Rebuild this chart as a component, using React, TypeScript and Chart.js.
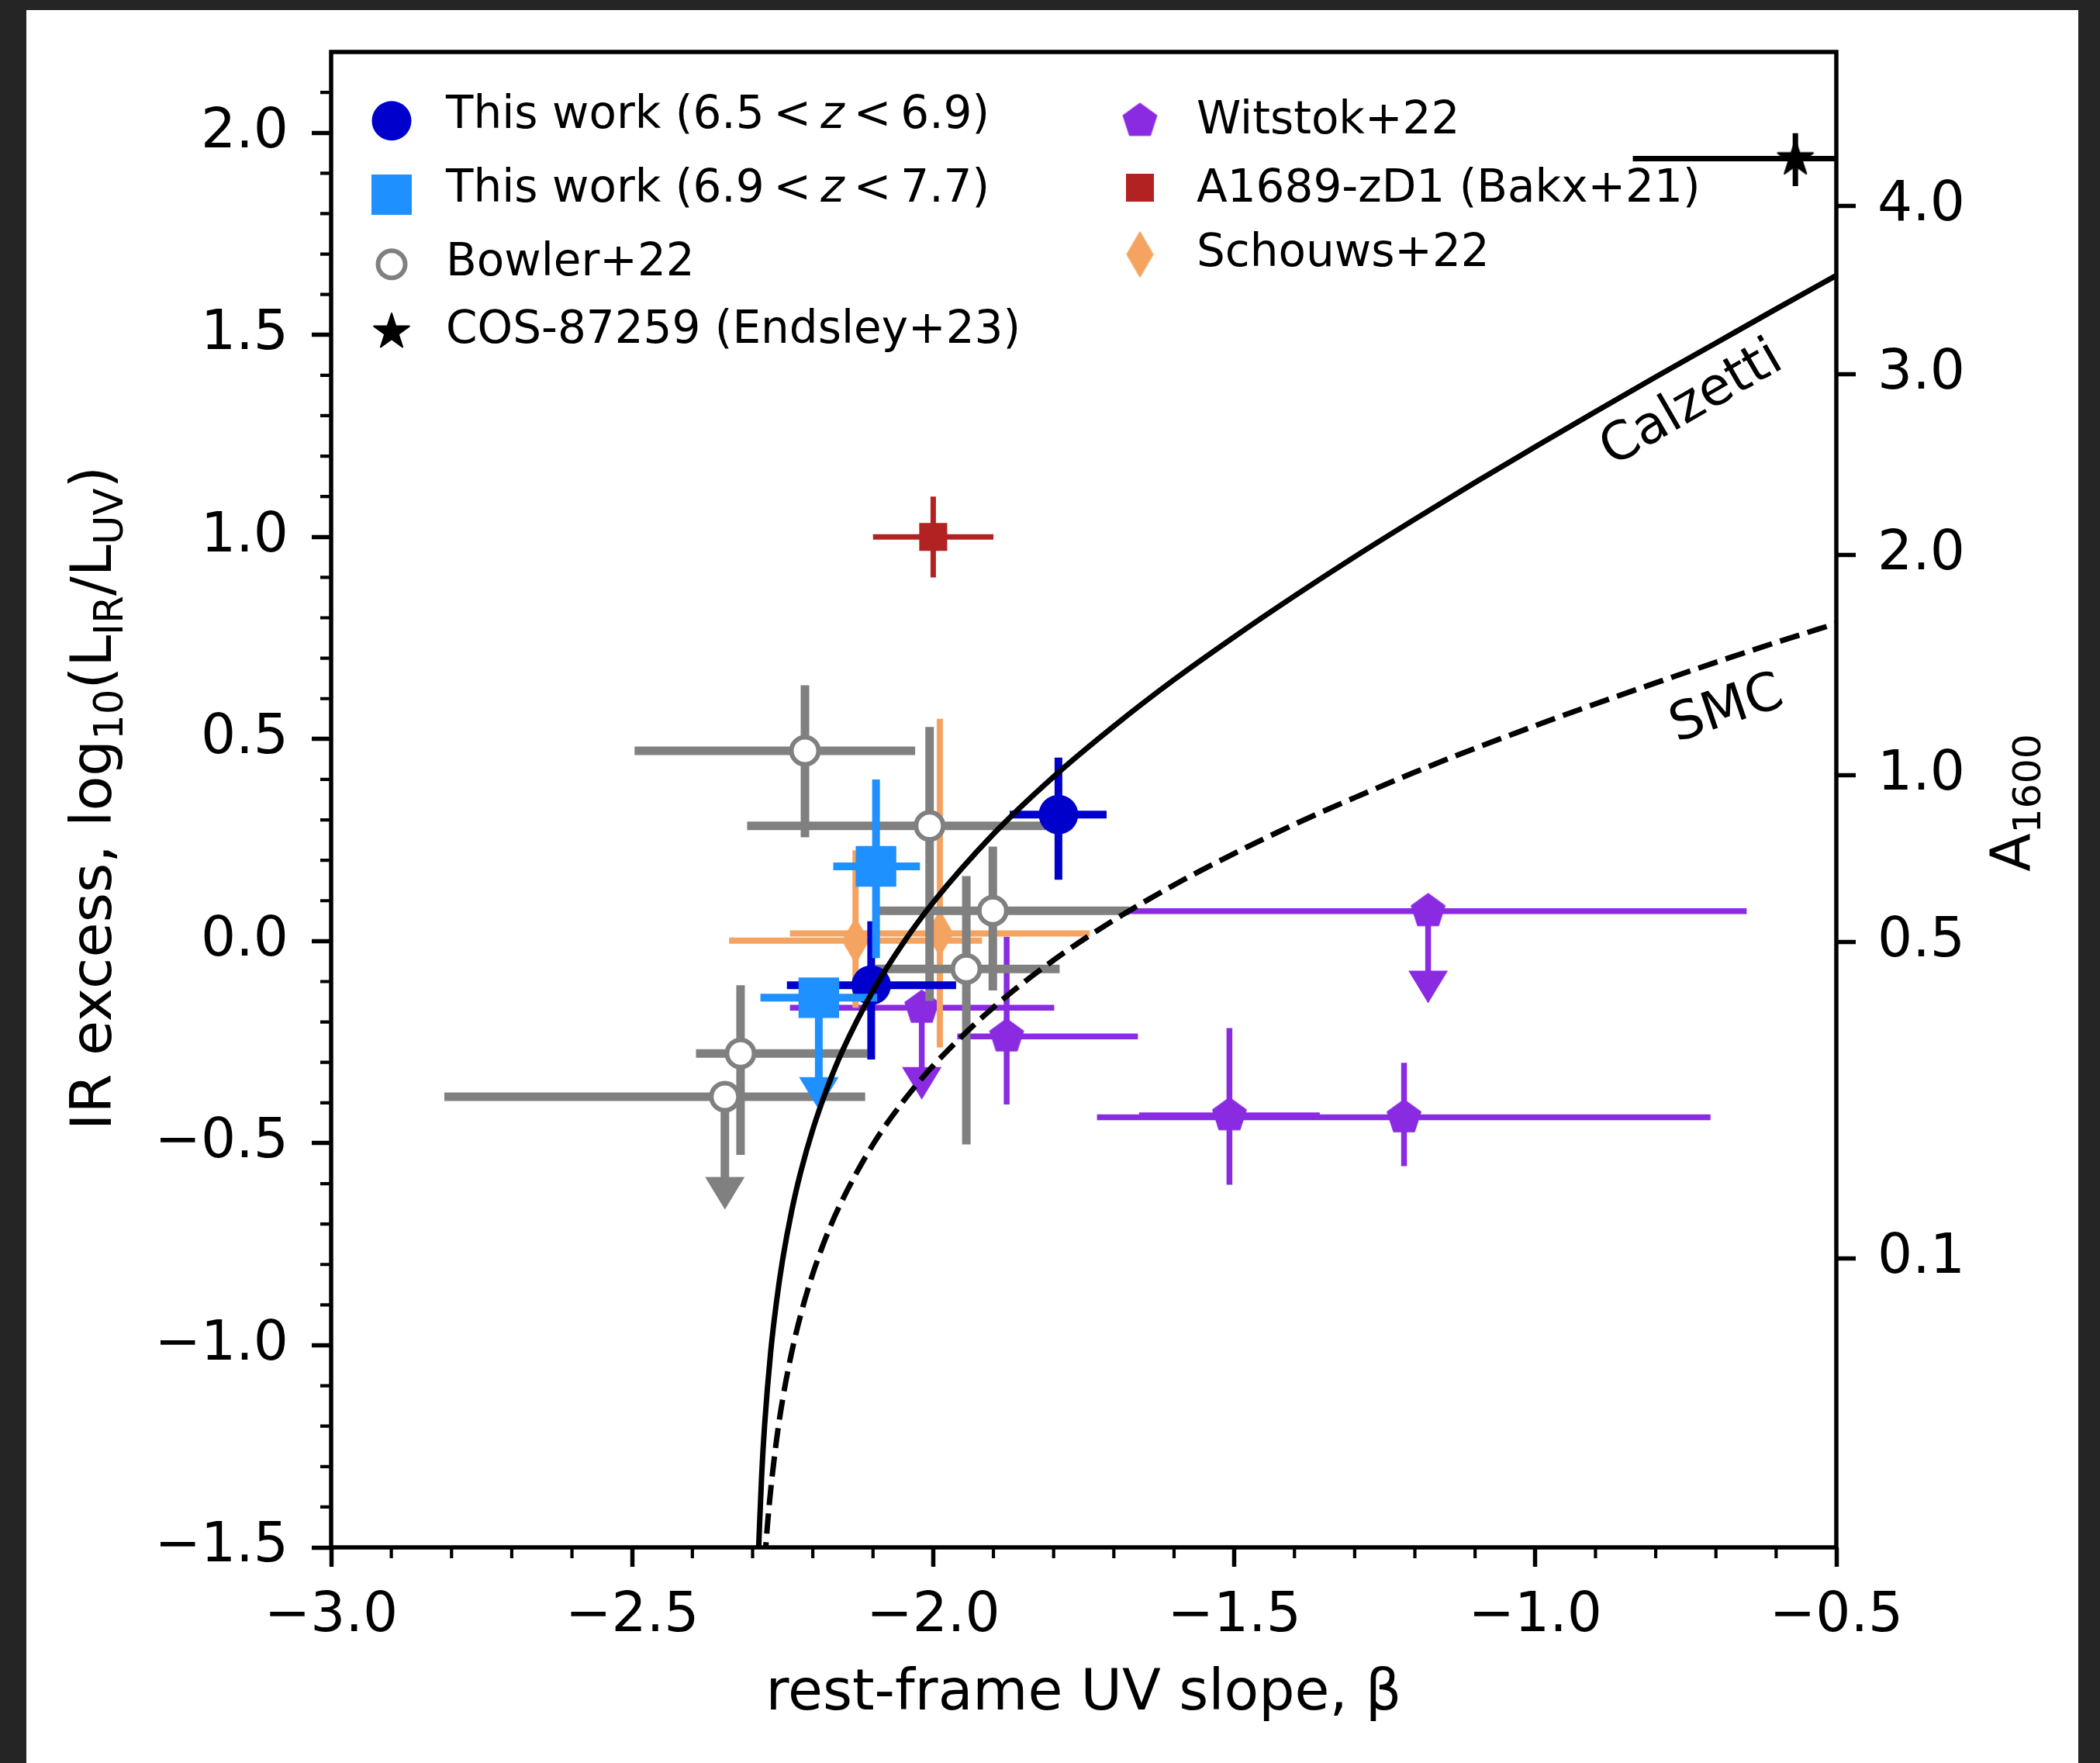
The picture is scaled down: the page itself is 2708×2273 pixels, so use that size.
import React, { useEffect, useRef } from "react";
import { Chart, registerables } from "chart.js";
Chart.register(...registerables);

const W = 2708;
const H = 2273;
const FONT = "'DejaVu Sans', 'Liberation Sans', sans-serif";

// ---------- axes ----------
const X_MIN = -3.0, X_MAX = -0.5, X_STEP = 0.5;
const Y_MIN = -1.5, Y_MAX = 2.2, Y_STEP = 0.5;
const A1600_LABELS = ["4.0", "3.0", "2.0", "1.0", "0.5", "0.1"];
const A1600_IRX = [1.819, 1.402, 0.956, 0.41, -0.003, -0.785];

// ---------- This work (6.5 < z < 6.9) ----------
const lowBeta = [-1.792, -2.103];
const lowIrx = [0.313, -0.109];
const lowBetaLo = [-1.873, -2.243];
const lowBetaHi = [-1.712, -1.962];
const lowIrxLo = [0.152, -0.293];
const lowIrxHi = [0.454, 0.049];

// ---------- This work (6.9 < z < 7.7) ----------
const highBeta = [-2.095, -2.19];
const highIrx = [0.185, -0.14];
const highBetaLo = [-2.166, -2.287];
const highBetaHi = [-2.022, -2.093];
const highIrxLo = [-0.042, null];
const highIrxHi = [0.4, null];
const highUpperTip = [null, -0.417];

// ---------- Bowler+22 ----------
const bowBeta = [-2.213, -2.006, -1.901, -1.945, -2.32, -2.346];
const bowIrx = [0.471, 0.285, 0.075, -0.069, -0.278, -0.385];
const bowBetaLo = [-2.496, -2.309, -2.091, -2.1, -2.394, -2.812];
const bowBetaHi = [-2.03, -1.804, -1.674, -1.79, -2.109, -2.113];
const bowIrxLo = [0.257, -0.148, -0.122, -0.503, -0.529, null];
const bowIrxHi = [0.633, 0.53, 0.234, 0.161, -0.109, null];
const bowUpperTip = [null, null, null, null, null, -0.664];

// ---------- Schouws+22 ----------
const schBeta = [-2.129, -1.989];
const schIrx = [0.001, 0.019];
const schBetaLo = [-2.339, -2.238];
const schBetaHi = [-1.919, -1.74];
const schIrxLo = [-0.165, -0.263];
const schIrxHi = [0.225, 0.55];

// ---------- Witstok+22 ----------
const witBeta = [-2.019, -1.878, -1.178, -1.508, -1.218];
const witIrx = [-0.165, -0.236, 0.074, -0.431, -0.436];
const witBetaLo = [-2.238, -1.96, -1.674, -1.658, -1.728];
const witBetaHi = [-1.799, -1.66, -0.649, -1.358, -0.709];
const witIrxLo = [null, -0.404, null, -0.603, -0.557];
const witIrxHi = [null, 0.011, null, -0.215, -0.301];
const witUpperTip = [-0.392, null, -0.154, null, null];

// ---------- A1689-zD1 (Bakx+21) ----------
const bakBeta = [-2.0];
const bakIrx = [1.0];
const bakBetaLo = [-2.1];
const bakBetaHi = [-1.9];
const bakIrxLo = [0.9];
const bakIrxHi = [1.1];

// ---------- COS-87259 (Endsley+23) ----------
const cosBeta = [-0.568];
const cosIrx = [1.936];
const cosBetaLo = [-0.838];
const cosBetaHi = [-0.298];
const cosIrxLo = [1.868];
const cosIrxHi = [1.999];

// ---------- IRX-beta relations ----------
const calzBeta = [-2.29, -2.285, -2.28, -2.27, -2.26, -2.25, -2.235, -2.22, -2.2, -2.175, -2.15, -2.1, -2.05, -2.0, -1.9, -1.8, -1.7, -1.6, -1.5, -1.4, -1.3, -1.2, -1.1, -1.0, -0.9, -0.8, -0.7, -0.6, -0.5];
const calzIrx = [-1.502, -1.324, -1.197, -1.017, -0.889, -0.787, -0.667, -0.571, -0.466, -0.359, -0.269, -0.123, -0.005, 0.096, 0.265, 0.407, 0.532, 0.647, 0.753, 0.854, 0.951, 1.044, 1.135, 1.223, 1.31, 1.396, 1.48, 1.564, 1.647];
const smcBeta = [-2.28, -2.275, -2.27, -2.26, -2.25, -2.235, -2.22, -2.2, -2.175, -2.15, -2.1, -2.05, -2.0, -1.9, -1.8, -1.7, -1.6, -1.5, -1.4, -1.3, -1.2, -1.1, -1.0, -0.9, -0.8, -0.7, -0.6, -0.5];
const smcIrx = [-1.537, -1.439, -1.359, -1.232, -1.133, -1.017, -0.924, -0.823, -0.721, -0.638, -0.503, -0.397, -0.308, -0.164, -0.047, 0.052, 0.139, 0.217, 0.289, 0.355, 0.418, 0.477, 0.533, 0.587, 0.639, 0.69, 0.739, 0.786];

// colours
const C_DARK = "#0000CD";
const C_LIGHT = "#1E90FF";
const C_GREY = "#808080";
const C_ORANGE = "#F4A460";
const C_PURPLE = "#8A2BE2";
const C_RED = "#B22222";
const C_BLACK = "#000000";

function mkCanvas(w: number, h: number) {
  const c = document.createElement("canvas");
  c.width = w;
  c.height = h;
  return c;
}
function pentagonCanvas(R: number, color: string) {
  const s = Math.ceil(2 * R + 6);
  const c = mkCanvas(s, s);
  const g = c.getContext("2d")!;
  g.fillStyle = color;
  g.strokeStyle = color;
  g.lineWidth = 2;
  g.lineJoin = "round";
  g.beginPath();
  for (let k = 0; k < 5; k++) {
    const a = -Math.PI / 2 + (k * 2 * Math.PI) / 5;
    const px = s / 2 + R * Math.cos(a);
    const py = s / 2 + R * Math.sin(a);
    if (k === 0) g.moveTo(px, py);
    else g.lineTo(px, py);
  }
  g.closePath();
  g.fill();
  g.stroke();
  return c;
}
function starCanvas(R: number, color: string) {
  const s = Math.ceil(2 * R + 6);
  const c = mkCanvas(s, s);
  const g = c.getContext("2d")!;
  const r = R * 0.381966;
  g.fillStyle = color;
  g.strokeStyle = color;
  g.lineWidth = 2;
  g.lineJoin = "round";
  g.beginPath();
  for (let k = 0; k < 10; k++) {
    const a = -Math.PI / 2 + (k * Math.PI) / 5;
    const rr = k % 2 === 0 ? R : r;
    const px = s / 2 + rr * Math.cos(a);
    const py = s / 2 + rr * Math.sin(a);
    if (k === 0) g.moveTo(px, py);
    else g.lineTo(px, py);
  }
  g.closePath();
  g.fill();
  g.stroke();
  return c;
}
function diamondCanvas(w: number, h: number, color: string) {
  const cw = Math.ceil(w + 6);
  const ch = Math.ceil(h + 6);
  const c = mkCanvas(cw, ch);
  const g = c.getContext("2d")!;
  g.fillStyle = color;
  g.strokeStyle = color;
  g.lineWidth = 2;
  g.lineJoin = "round";
  g.beginPath();
  g.moveTo(cw / 2, ch / 2 - h / 2);
  g.lineTo(cw / 2 + w / 2, ch / 2);
  g.lineTo(cw / 2, ch / 2 + h / 2);
  g.lineTo(cw / 2 - w / 2, ch / 2);
  g.closePath();
  g.fill();
  g.stroke();
  return c;
}

function pts(b: number[], v: number[]) {
  return b.map((x, i) => ({ x, y: v[i] }));
}
const fmt = (v: number) => (v < 0 ? "\u2212" : "") + Math.abs(v).toFixed(1);

type Part = { t?: string; sub?: boolean; it?: boolean; gap?: number };
function drawRich(ctx: CanvasRenderingContext2D, parts: Part[], x: number, y: number, size: number, align: "left" | "center") {
  const subSize = size * 0.7;
  const shift = size * 0.2;
  const widths = parts.map((p) => {
    if (p.gap) return p.gap;
    ctx.font = `${p.it ? "italic " : ""}${p.sub ? subSize : size}px ${FONT}`;
    return ctx.measureText(p.t || "").width;
  });
  const total = widths.reduce((a, b) => a + b, 0);
  let cx = align === "center" ? x - total / 2 : x;
  ctx.textAlign = "left";
  ctx.textBaseline = "alphabetic";
  parts.forEach((p, i) => {
    if (!p.gap) {
      ctx.font = `${p.it ? "italic " : ""}${p.sub ? subSize : size}px ${FONT}`;
      ctx.fillText(p.t || "", cx, y + (p.sub ? shift : 0));
    }
    cx += widths[i];
  });
}

const bgPlugin = {
  id: "bg",
  beforeDraw(chart: any) {
    const ctx = chart.ctx;
    ctx.save();
    ctx.fillStyle = "#252525";
    ctx.fillRect(0, 0, W, H);
    ctx.fillStyle = "#ffffff";
    ctx.fillRect(34, 13, 2680 - 34, H - 13);
    ctx.restore();
  },
};

const errPlugin = {
  id: "errbars",
  beforeDatasetDraw(chart: any, args: any) {
    const ds = chart.data.datasets[args.index];
    const eb = ds.errBars;
    if (!eb) return;
    const ctx = chart.ctx;
    const a = chart.chartArea;
    const xs = chart.scales.x;
    const ys = chart.scales.y;
    ctx.save();
    ctx.beginPath();
    ctx.rect(a.left, a.top, a.right - a.left, a.bottom - a.top);
    ctx.clip();
    ctx.strokeStyle = eb.color;
    ctx.fillStyle = eb.color;
    ctx.lineWidth = eb.width;
    ctx.lineCap = "butt";
    for (let i = 0; i < eb.beta.length; i++) {
      const px = xs.getPixelForValue(eb.beta[i]);
      const py = ys.getPixelForValue(eb.irx[i]);
      ctx.beginPath();
      if (eb.betaLo && eb.betaLo[i] != null) {
        ctx.moveTo(xs.getPixelForValue(eb.betaLo[i]), py);
        ctx.lineTo(xs.getPixelForValue(eb.betaHi[i]), py);
      }
      if (eb.irxLo && eb.irxLo[i] != null) {
        ctx.moveTo(px, ys.getPixelForValue(eb.irxHi[i]));
        ctx.lineTo(px, ys.getPixelForValue(eb.irxLo[i]));
      }
      ctx.stroke();
      if (eb.tip && eb.tip[i] != null) {
        const ty = ys.getPixelForValue(eb.tip[i]);
        const hh = 42;
        const hw = 25.5;
        ctx.beginPath();
        ctx.moveTo(px, py);
        ctx.lineTo(px, ty - hh + 2);
        ctx.stroke();
        ctx.beginPath();
        ctx.moveTo(px - hw, ty - hh);
        ctx.lineTo(px + hw, ty - hh);
        ctx.lineTo(px, ty);
        ctx.closePath();
        ctx.fill();
      }
    }
    ctx.restore();
  },
};

function makeFramePlugin(markers: any) {
  return {
    id: "frame",
    afterDatasetsDraw(chart: any) {
      const ctx = chart.ctx;
      const a = chart.chartArea;
      const xs = chart.scales.x;
      const ys = chart.scales.y;
      ctx.save();
      // minor ticks
      ctx.strokeStyle = "#000";
      ctx.lineWidth = 4.2;
      ctx.beginPath();
      for (let k = -30; k <= -5; k++) {
        if (k % 5 === 0) continue;
        const px = xs.getPixelForValue(k / 10);
        ctx.moveTo(px, a.bottom);
        ctx.lineTo(px, a.bottom + 14);
      }
      for (let k = -15; k <= 21; k++) {
        if (k % 5 === 0) continue;
        const py = ys.getPixelForValue(k / 10);
        ctx.moveTo(a.left, py);
        ctx.lineTo(a.left - 14, py);
      }
      ctx.stroke();
      // frame
      ctx.lineWidth = 5.5;
      ctx.strokeRect(a.left, a.top, a.right - a.left, a.bottom - a.top);
      ctx.restore();
    },
    afterDraw(chart: any) {
      const ctx = chart.ctx;
      const a = chart.chartArea;
      ctx.save();
      ctx.fillStyle = "#000";
      // x label
      drawRich(ctx, [{ t: "rest-frame UV slope, \u03b2" }], (a.left + a.right) / 2, 2204, 73, "center");
      // y label
      ctx.save();
      ctx.translate(143, (a.top + a.bottom) / 2 - 2);
      ctx.rotate(-Math.PI / 2);
      drawRich(
        ctx,
        [
          { t: "IR excess, log" },
          { t: "10", sub: true },
          { t: "(L" },
          { t: "IR", sub: true },
          { t: "/L" },
          { t: "UV", sub: true },
          { t: ")" },
        ],
        0,
        0,
        73.5,
        "center"
      );
      ctx.restore();
      // right label
      ctx.save();
      ctx.translate(2617, (a.top + a.bottom) / 2 + 4);
      ctx.rotate(-Math.PI / 2);
      drawRich(ctx, [{ t: "A" }, { t: "1600", sub: true }], 0, 0, 72, "center");
      ctx.restore();
      // curve labels
      ctx.font = `68px ${FONT}`;
      ctx.textAlign = "center";
      ctx.textBaseline = "middle";
      ctx.save();
      ctx.translate(2182, 522);
      ctx.rotate((-30 * Math.PI) / 180);
      ctx.fillText("Calzetti", 0, 0);
      ctx.restore();
      ctx.save();
      ctx.translate(2227, 916);
      ctx.rotate((-18.7 * Math.PI) / 180);
      ctx.fillText("SMC", 0, 0);
      ctx.restore();

      // legend
      const LS = 58;
      const g = 12;
      // col 1
      ctx.fillStyle = C_DARK;
      ctx.beginPath();
      ctx.arc(505, 155.7, 25.5, 0, Math.PI * 2);
      ctx.fill();
      ctx.fillStyle = "#000";
      drawRich(ctx, [{ t: "This work (6.5" }, { gap: g }, { t: "<" }, { gap: g }, { t: "z", it: true }, { gap: g }, { t: "<" }, { gap: g }, { t: "6.9)" }], 575, 164.5, LS, "left");
      ctx.fillStyle = C_LIGHT;
      ctx.fillRect(505 - 26, 251 - 26, 52, 52);
      ctx.fillStyle = "#000";
      drawRich(ctx, [{ t: "This work (6.9" }, { gap: g }, { t: "<" }, { gap: g }, { t: "z", it: true }, { gap: g }, { t: "<" }, { gap: g }, { t: "7.7)" }], 575, 259.5, LS, "left");
      ctx.beginPath();
      ctx.arc(505, 340.7, 17.5, 0, Math.PI * 2);
      ctx.fillStyle = "#fff";
      ctx.fill();
      ctx.strokeStyle = C_GREY;
      ctx.lineWidth = 6;
      ctx.stroke();
      ctx.fillStyle = "#000";
      drawRich(ctx, [{ t: "Bowler+22" }], 575, 355, LS, "left");
      const st = markers.star;
      ctx.drawImage(st, 505 - st.width / 2, 428 - st.height / 2);
      drawRich(ctx, [{ t: "COS-87259 (Endsley+23)" }], 575, 442, LS, "left");
      // col 2
      const pe = markers.pent;
      ctx.drawImage(pe, 1470 - pe.width / 2, 156 - pe.height / 2);
      drawRich(ctx, [{ t: "Witstok+22" }], 1543, 171.7, LS, "left");
      ctx.fillStyle = C_RED;
      ctx.fillRect(1470 - 18, 242 - 18, 36, 36);
      ctx.fillStyle = "#000";
      drawRich(ctx, [{ t: "A1689-zD1 (Bakx+21)" }], 1543, 260, LS, "left");
      const di = markers.diamond;
      ctx.drawImage(di, 1470 - di.width / 2, 328 - di.height / 2);
      drawRich(ctx, [{ t: "Schouws+22" }], 1543, 343.3, LS, "left");
      ctx.restore();
    },
  };
}

export default function App() {
  const ref = useRef<HTMLCanvasElement>(null);
  useEffect(() => {
    document.body.style.margin = "0";
    document.body.style.background = "#252525";
    document.body.style.overflow = "hidden";
    const canvas = ref.current!;
    const pent = pentagonCanvas(22.5, C_PURPLE);
    const star = starCanvas(24, C_BLACK);
    const diamond = diamondCanvas(33, 57, C_ORANGE);
    const markers = { pent, star, diamond };

    const tickFont = { family: FONT, size: 71 };
    const tickFontY = { family: FONT, size: 71, lineHeight: 0.6 };
    const gridCommon = {
      drawOnChartArea: false,
      drawTicks: true,
      tickLength: 25,
      tickWidth: 5.5,
      tickColor: "#000",
      color: "#000",
    };

    const datasets: any[] = [
      {
        label: "Witstok+22",
        data: pts(witBeta, witIrx),
        pointStyle: pent,
        pointRadius: 20,
        order: 9,
        clip: 0,
        errBars: { color: C_PURPLE, width: 7.5, beta: witBeta, irx: witIrx, betaLo: witBetaLo, betaHi: witBetaHi, irxLo: witIrxLo, irxHi: witIrxHi, tip: witUpperTip },
      },
      {
        label: "Schouws+22",
        data: pts(schBeta, schIrx),
        pointStyle: diamond,
        pointRadius: 20,
        order: 8,
        clip: 0,
        errBars: { color: C_ORANGE, width: 8, beta: schBeta, irx: schIrx, betaLo: schBetaLo, betaHi: schBetaHi, irxLo: schIrxLo, irxHi: schIrxHi },
      },
      {
        label: "Bowler+22",
        data: pts(bowBeta, bowIrx),
        pointStyle: "circle",
        pointRadius: 17.5,
        pointBackgroundColor: "#ffffff",
        pointBorderColor: C_GREY,
        pointBorderWidth: 6,
        order: 7,
        clip: 0,
        errBars: { color: C_GREY, width: 11, beta: bowBeta, irx: bowIrx, betaLo: bowBetaLo, betaHi: bowBetaHi, irxLo: bowIrxLo, irxHi: bowIrxHi, tip: bowUpperTip },
      },
      {
        label: "This work (6.5 < z < 6.9)",
        data: pts(lowBeta, lowIrx),
        pointStyle: "circle",
        pointRadius: 25.5,
        pointBackgroundColor: C_DARK,
        pointBorderWidth: 0,
        order: 6,
        clip: 0,
        errBars: { color: C_DARK, width: 10, beta: lowBeta, irx: lowIrx, betaLo: lowBetaLo, betaHi: lowBetaHi, irxLo: lowIrxLo, irxHi: lowIrxHi },
      },
      {
        label: "This work (6.9 < z < 7.7)",
        data: pts(highBeta, highIrx),
        pointStyle: "rect",
        pointRadius: 37,
        pointBackgroundColor: C_LIGHT,
        pointBorderWidth: 0,
        order: 5,
        clip: 0,
        errBars: { color: C_LIGHT, width: 10, beta: highBeta, irx: highIrx, betaLo: highBetaLo, betaHi: highBetaHi, irxLo: highIrxLo, irxHi: highIrxHi, tip: highUpperTip },
      },
      {
        label: "A1689-zD1 (Bakx+21)",
        data: pts(bakBeta, bakIrx),
        pointStyle: "rect",
        pointRadius: 25.5,
        pointBackgroundColor: C_RED,
        pointBorderWidth: 0,
        order: 4,
        clip: 0,
        errBars: { color: C_RED, width: 7, beta: bakBeta, irx: bakIrx, betaLo: bakBetaLo, betaHi: bakBetaHi, irxLo: bakIrxLo, irxHi: bakIrxHi },
      },
      {
        label: "COS-87259 (Endsley+23)",
        data: pts(cosBeta, cosIrx),
        pointStyle: star,
        pointRadius: 20,
        order: 3,
        clip: 0,
        errBars: { color: C_BLACK, width: 7, beta: cosBeta, irx: cosIrx, betaLo: cosBetaLo, betaHi: cosBetaHi, irxLo: cosIrxLo, irxHi: cosIrxHi },
      },
      {
        label: "SMC",
        data: pts(smcBeta, smcIrx),
        showLine: true,
        pointRadius: 0,
        borderColor: "#000",
        borderWidth: 7,
        borderDash: [26, 11],
        cubicInterpolationMode: "monotone",
        fill: false,
        order: 2,
        clip: 0,
      },
      {
        label: "Calzetti",
        data: pts(calzBeta, calzIrx),
        showLine: true,
        pointRadius: 0,
        borderColor: "#000",
        borderWidth: 7,
        cubicInterpolationMode: "monotone",
        fill: false,
        order: 1,
        clip: 0,
      },
    ];

    const chart = new Chart(canvas, {
      type: "scatter",
      data: { datasets },
      options: {
        animation: false,
        responsive: false,
        devicePixelRatio: 1,
        events: [],
        layout: { padding: { top: 67, left: 0, right: 0, bottom: 0 } },
        plugins: { legend: { display: false }, tooltip: { enabled: false }, title: { display: false } },
        scales: {
          x: {
            type: "linear",
            position: "bottom",
            min: X_MIN,
            max: X_MAX,
            afterFit: (s: any) => {
              s.height = H - 1995;
            },
            ticks: {
              stepSize: X_STEP,
              includeBounds: false,
              autoSkip: false,
              maxRotation: 0,
              font: tickFont,
              color: "#000",
              padding: 22,
              callback: (v: any) => fmt(Number(v)),
            },
            grid: gridCommon,
            border: { display: false },
          },
          y: {
            type: "linear",
            position: "left",
            min: Y_MIN,
            max: Y_MAX,
            afterFit: (s: any) => {
              s.width = 427;
            },
            ticks: {
              stepSize: Y_STEP,
              includeBounds: false,
              autoSkip: false,
              font: tickFontY,
              color: "#000",
              padding: 30,
              callback: (v: any) => fmt(Number(v)),
            },
            grid: gridCommon,
            border: { display: false },
          },
          y2: {
            type: "linear",
            axis: "y",
            position: "right",
            min: Y_MIN,
            max: Y_MAX,
            afterFit: (s: any) => {
              s.width = W - 2368;
            },
            afterBuildTicks: (axis: any) => {
              axis.ticks = A1600_IRX.map((v) => ({ value: v }));
            },
            ticks: {
              autoSkip: false,
              font: tickFontY,
              color: "#000",
              padding: 28,
              callback: (v: any) => {
                const i = A1600_IRX.indexOf(Number(v));
                return i >= 0 ? A1600_LABELS[i] : "";
              },
            },
            grid: gridCommon,
            border: { display: false },
          },
        },
      } as any,
      plugins: [bgPlugin, errPlugin, makeFramePlugin(markers)],
    });
    return () => chart.destroy();
  }, []);
  return <canvas ref={ref} width={W} height={H} style={{ display: "block", width: W, height: H }} />;
}
